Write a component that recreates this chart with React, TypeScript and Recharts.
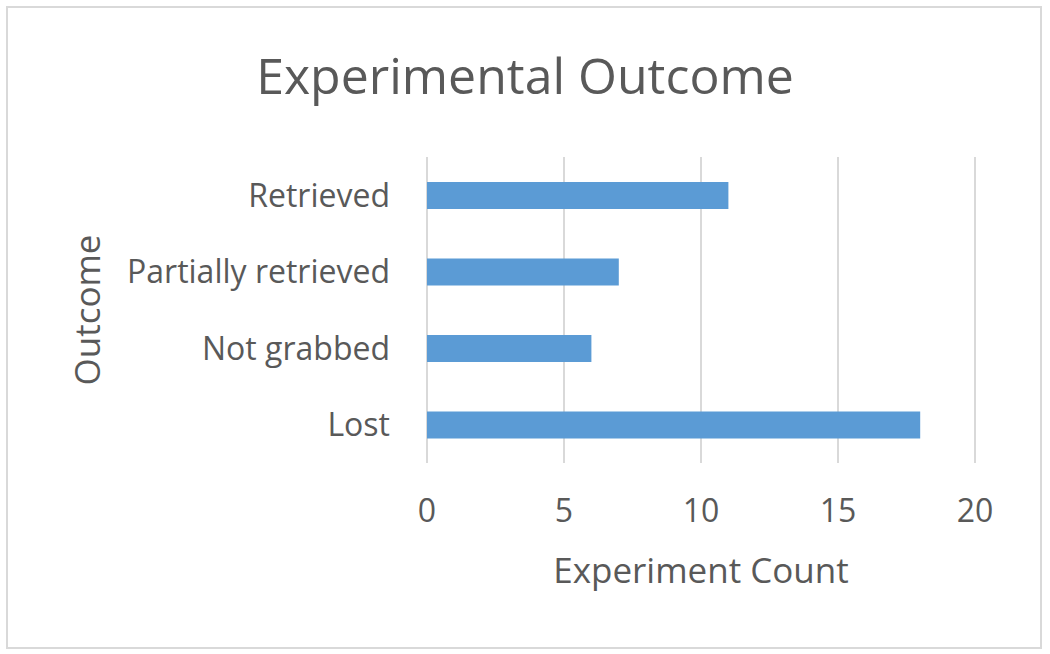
import { BarChart, Bar, XAxis, YAxis, CartesianGrid, Label } from "recharts";

const outcomes = ["Retrieved", "Partially retrieved", "Not grabbed", "Lost"];
const counts = [11, 7, 6, 18];
const countTicks = [0, 5, 10, 15, 20];

const data = outcomes.map((outcome, i) => ({ outcome, count: counts[i] }));

const TEXT = "#595959";
const FONT = "'Open Sans', sans-serif";

export default function App() {
  return (
    <div style={{ position: "absolute", left: 0, top: 0, width: 1050, height: 654, background: "#fff", fontFamily: FONT }}>
      <div
        style={{
          position: "absolute",
          left: 6,
          top: 6,
          width: 1032,
          height: 639,
          border: "2px solid #d9d9d9",
        }}
      />
      <div
        style={{
          position: "absolute",
          left: 0,
          width: 1050,
          top: 40,
          textAlign: "center",
          fontSize: 50,
          color: TEXT,
          lineHeight: "70px",
        }}
      >
        Experimental Outcome
      </div>
      <div style={{ position: "absolute", left: 0, top: 0 }}>
        <BarChart
          width={1050}
          height={654}
          data={data}
          layout="vertical"
          margin={{ top: 157, right: 75, bottom: 61, left: 0 }}
        >
          <CartesianGrid horizontal={false} stroke="#d9d9d9" strokeWidth={2} />
          <XAxis
            type="number"
            domain={[0, 20]}
            ticks={countTicks}
            axisLine={false}
            tickLine={false}
            tickMargin={30}
            height={130}
            tick={{ fontSize: 32, fill: TEXT, fontFamily: FONT }}
          >
            <Label
              value="Experiment Count"
              position="insideBottom"
              offset={10}
              style={{ fontSize: 35, fill: TEXT, fontFamily: FONT }}
            />
          </XAxis>
          <YAxis
            type="category"
            dataKey="outcome"
            width={427}
            axisLine={false}
            tickLine={false}
            tickMargin={31}
            tick={{ fontSize: 32, fill: TEXT, fontFamily: FONT }}
          >
            <Label
              value="Outcome"
              angle={-90}
              position="insideLeft"
              offset={88}
              style={{ fontSize: 35, fill: TEXT, fontFamily: FONT, textAnchor: "middle" }}
            />
          </YAxis>
          <Bar dataKey="count" fill="#5b9bd5" barSize={27} isAnimationActive={false} />
        </BarChart>
      </div>
    </div>
  );
}
